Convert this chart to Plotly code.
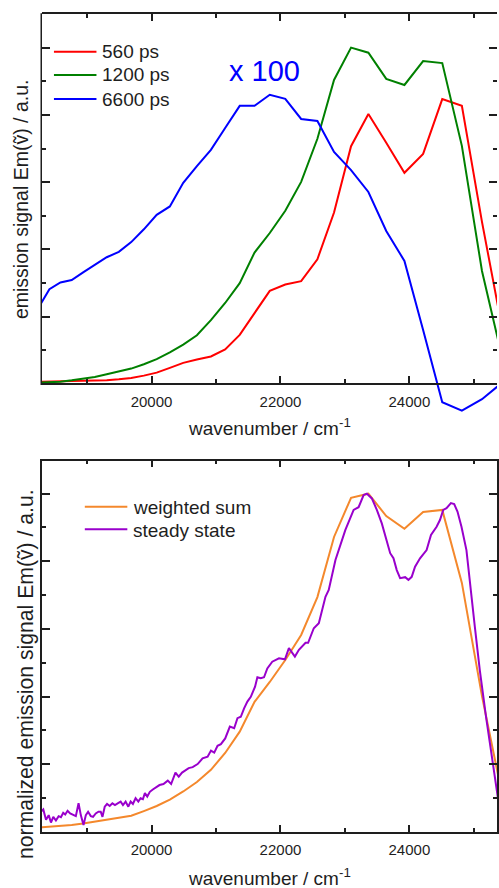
import plotly.graph_objects as go

# ---------------- data ----------------
# wavenumber grid of the time-resolved spectra (cm^-1)
wn_grid = [18248, 18416, 18587, 18762, 18939, 19120, 19305, 19493, 19685, 19881,
           20080, 20284, 20492, 20704, 20921, 21142, 21368, 21598, 21834, 22075,
           22321, 22573, 22831, 23095, 23364, 23641, 23923, 24213, 24510, 24814,
           25126, 25445]
em_560ps = [0.007, 0.007, 0.008, 0.009, 0.010, 0.010, 0.011, 0.014, 0.018, 0.025,
            0.034, 0.048, 0.063, 0.073, 0.082, 0.103, 0.146, 0.211, 0.277, 0.296,
            0.306, 0.371, 0.510, 0.707, 0.803, 0.717, 0.628, 0.684, 0.847, 0.827,
            0.482, 0.160]
em_1200ps = [0.004, 0.005, 0.007, 0.011, 0.015, 0.021, 0.029, 0.037, 0.046, 0.059,
             0.074, 0.094, 0.117, 0.145, 0.190, 0.241, 0.300, 0.391, 0.449, 0.515,
             0.601, 0.729, 0.904, 1.000, 0.985, 0.907, 0.889, 0.960, 0.954, 0.708,
             0.336, 0.074]
em_6600ps = [0.227, 0.282, 0.302, 0.309, 0.332, 0.355, 0.377, 0.393, 0.422, 0.460,
             0.503, 0.528, 0.598, 0.648, 0.696, 0.761, 0.827, 0.827, 0.860, 0.848,
             0.788, 0.782, 0.690, 0.636, 0.571, 0.455, 0.366, 0.161, -0.054, -0.079,
             -0.045, 0.005]
weighted_sum = [0.012, 0.0145, 0.016, 0.020, 0.024, 0.030, 0.035, 0.041, 0.047, 0.061,
                0.076, 0.095, 0.119, 0.147, 0.183, 0.233, 0.296, 0.384, 0.443, 0.508,
                0.582, 0.694, 0.872, 0.988, 1.000, 0.934, 0.896, 0.946, 0.952, 0.736,
                0.401, 0.103]

steady_wn = [18270, 18321, 18363, 18405, 18440, 18476, 18517, 18559, 18595, 18630,
             18661, 18698, 18738, 18785, 18826, 18868, 18903, 18945, 18981, 19016,
             19058, 19093, 19135, 19177, 19212, 19239, 19274, 19310, 19351, 19393,
             19433, 19475, 19521, 19557, 19598, 19640, 19676, 19711, 19753, 19795,
             19830, 19866, 19897, 19934, 19974, 20020, 20073, 20124, 20185, 20252,
             20304, 20371, 20422, 20474, 20576, 20638, 20715, 20792, 20870, 20922,
             20973, 21024, 21076, 21143, 21215, 21282, 21333, 21385, 21436, 21487,
             21540, 21606, 21642, 21694, 21745, 21796, 21873, 21977, 22070, 22131,
             22224, 22286, 22389, 22429, 22517, 22595, 22698, 22749, 22853, 23007,
             23135, 23212, 23290, 23341, 23418, 23495, 23572, 23649, 23702, 23753,
             23804, 23856, 23934, 23985, 24036, 24088, 24165, 24267, 24335, 24422,
             24474, 24525, 24576, 24644, 24695, 24746, 24808, 24885, 24937, 25015,
             25092, 25189, 25348, 25436]
steady_em = [0.057, 0.066, 0.035, 0.049, 0.027, 0.044, 0.033, 0.046, 0.043, 0.056,
             0.051, 0.062, 0.054, 0.050, 0.046, 0.084, 0.049, 0.020, 0.049, 0.059,
             0.046, 0.044, 0.054, 0.059, 0.059, 0.044, 0.074, 0.082, 0.076, 0.084,
             0.079, 0.084, 0.089, 0.079, 0.089, 0.074, 0.089, 0.082, 0.099, 0.089,
             0.099, 0.096, 0.114, 0.104, 0.118, 0.125, 0.131, 0.138, 0.141, 0.151,
             0.141, 0.175, 0.163, 0.175, 0.188, 0.191, 0.200, 0.217, 0.222, 0.240,
             0.234, 0.254, 0.259, 0.276, 0.311, 0.306, 0.336, 0.340, 0.365, 0.385,
             0.399, 0.429, 0.457, 0.454, 0.457, 0.483, 0.503, 0.513, 0.510, 0.543,
             0.518, 0.538, 0.559, 0.559, 0.602, 0.617, 0.695, 0.715, 0.804, 0.893,
             0.952, 0.960, 0.996, 1.000, 0.986, 0.952, 0.912, 0.863, 0.824, 0.809,
             0.774, 0.750, 0.753, 0.745, 0.754, 0.784, 0.809, 0.833, 0.878, 0.902,
             0.922, 0.952, 0.957, 0.972, 0.969, 0.947, 0.902, 0.833, 0.735, 0.607,
             0.478, 0.340, 0.133, 0.017]

top_series = ["560 ps", "1200 ps", "6600 ps"]
bottom_series = ["weighted sum", "steady state"]
scale_label = "x 100"
x_title = "wavenumber / cm<sup>-1</sup>"
y_title_top = "emission signal Em(ṽ) / a.u."
y_title_bottom = "normalized emission signal Em(ṽ) / a.u."

# ---------------- layout helpers ----------------
W, H = 499, 888
ML = 42
PW = W - ML
FONT = "Liberation Sans, Arial, sans-serif"
INK = "#1e1e1e"
RED, GREEN, BLUE = "#ff0000", "#008000", "#0000ff"
ORANGE, PURPLE = "#f4882c", "#9900cc"


def px_x(px):
    return (px - ML) / PW


def px_y(py):
    return 1 - py / H


XR = [18301, 25359]

fig = go.Figure()
line_w = 2
fig.add_trace(go.Scatter(x=wn_grid, y=em_560ps, mode="lines", name=top_series[0],
                         line=dict(color=RED, width=line_w), xaxis="x", yaxis="y"))
fig.add_trace(go.Scatter(x=wn_grid, y=em_1200ps, mode="lines", name=top_series[1],
                         line=dict(color=GREEN, width=line_w), xaxis="x", yaxis="y"))
fig.add_trace(go.Scatter(x=wn_grid, y=em_6600ps, mode="lines", name=top_series[2],
                         line=dict(color=BLUE, width=line_w), xaxis="x", yaxis="y"))
# helper trace so the top frame axis is drawn
fig.add_trace(go.Scatter(x=[None], y=[None], mode="lines", xaxis="x3", yaxis="y",
                         showlegend=False, hoverinfo="skip"))
fig.add_trace(go.Scatter(x=wn_grid, y=weighted_sum, mode="lines", name=bottom_series[0],
                         line=dict(color=ORANGE, width=line_w), xaxis="x2", yaxis="y2"))
fig.add_trace(go.Scatter(x=steady_wn, y=steady_em, mode="lines", name=bottom_series[1],
                         line=dict(color=PURPLE, width=line_w), xaxis="x2", yaxis="y2"))

common = dict(showgrid=False, zeroline=False, ticks="inside", tickcolor=INK,
              linecolor=INK, linewidth=1.5, tickwidth=1.5,
              tickfont=dict(family=FONT, size=15, color=INK))
xminor = dict(dtick=1000, tick0=0, ticks="inside", ticklen=4, tickcolor=INK, tickwidth=1.5)
yminor = dict(dtick=0.1, tick0=0, ticks="inside", ticklen=4, tickcolor=INK, tickwidth=1.5)

fig.update_layout(
    width=W, height=H,
    margin=dict(l=ML, r=0, t=0, b=0),
    paper_bgcolor="white", plot_bgcolor="white",
    showlegend=False,
    font=dict(family=FONT, color=INK),
    xaxis=dict(**common, domain=[0, 1], range=XR, anchor="free", position=px_y(384),
               showline=True, ticklen=7, dtick=2000, tick0=0, minor=xminor,
               tickformat="d", ticklabelstandoff=4),
    xaxis3=dict(**common, overlaying="x", anchor="y", side="top", range=XR,
                showline=True, showticklabels=False, ticklen=7, dtick=2000, tick0=0,
                minor=xminor),
    yaxis=dict(**common, domain=[px_y(415), px_y(14)], range=[-0.092, 1.100], anchor="x",
               showline=False, mirror="ticks", showticklabels=False, ticklen=8,
               dtick=0.2, tick0=0, minor=yminor),
    xaxis2=dict(**common, domain=[0, 1], range=XR, anchor="y2", showline=True,
                mirror="ticks", ticklen=7, dtick=2000, tick0=0, minor=xminor,
                tickformat="d", ticklabelstandoff=4),
    yaxis2=dict(**common, domain=[px_y(831.7), px_y(460.7)], range=[0, 1.0976],
                anchor="x2", showline=True, mirror="ticks", showticklabels=False,
                ticklen=8, dtick=0.2, tick0=0, minor=yminor),
)

shapes = [
    # left frame of the upper panel (ends at the zero line)
    dict(type="line", xref="paper", yref="paper", x0=px_x(41.25), x1=px_x(41.25),
         y0=px_y(385), y1=px_y(13.3), line=dict(color=INK, width=1.5)),
]
# legend samples
for py, col in zip([51.7, 75, 99], [RED, GREEN, BLUE]):
    shapes.append(dict(type="line", xref="paper", yref="paper", x0=px_x(54), x1=px_x(96.7),
                       y0=px_y(py), y1=px_y(py), line=dict(color=col, width=2)))
for py, col in zip([506.7, 529.3], [ORANGE, PURPLE]):
    shapes.append(dict(type="line", xref="paper", yref="paper", x0=px_x(85), x1=px_x(127.7),
                       y0=px_y(py), y1=px_y(py), line=dict(color=col, width=2)))
fig.update_layout(shapes=shapes)

ann = []


def add_text(text, px, py, size, color=INK, xanchor="center", angle=0):
    ann.append(dict(text=text, xref="paper", yref="paper", x=px_x(px), y=px_y(py),
                    xanchor=xanchor, yanchor="middle", showarrow=False, textangle=angle,
                    borderpad=0, font=dict(family=FONT, size=size, color=color)))


for py, t in zip([51.7, 75, 99], top_series):
    add_text(t, 101, py, 19, xanchor="left")
for py, t in zip([507.5, 530], bottom_series):
    add_text(t, 132.5, py, 19, xanchor="left")
add_text(scale_label, 265.5, 70.5, 29, color=BLUE)
add_text(x_title, 271, 426.5, 19)
add_text(x_title, 271, 877, 19)
add_text(y_title_top, 21, 199, 19.5, angle=-90)
add_text(y_title_bottom, 26, 674, 21.2, angle=-90)
fig.update_layout(annotations=ann)

fig.write_html("out.html")
